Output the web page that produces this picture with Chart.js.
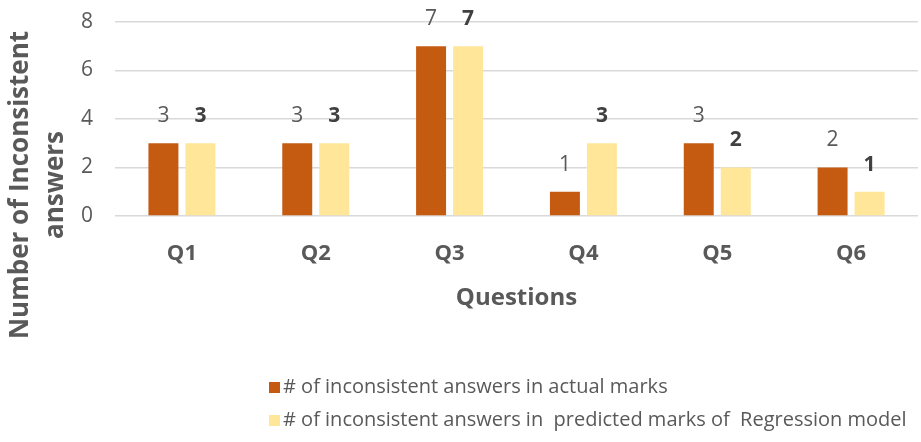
<!DOCTYPE html>
<html>
<head>
<meta charset="utf-8">
<script src="https://cdn.jsdelivr.net/npm/chart.js@4/dist/chart.umd.min.js"></script>
<style>
  html, body { margin: 0; padding: 0; background: #fff; }
  #wrap { width: 921px; height: 442px; }
</style>
</head>
<body>
<div id="wrap"><canvas id="myChart" width="921" height="442"></canvas></div>
<script>
const questions = ["Q1", "Q2", "Q3", "Q4", "Q5", "Q6"];
const actualMarks = [3, 3, 7, 1, 3, 2];
const predictedMarks = [3, 3, 7, 3, 2, 1];
const seriesNames = [
    "# of inconsistent answers in actual marks",
    "# of inconsistent answers in  predicted marks of  Regression model"
];
const yTicks = [0, 2, 4, 6, 8];
const yTitle = ["Number of Inconsistent", "answers"];
const xTitle = "Questions";

const FONT = "'Open Sans', sans-serif";
const GREY = '#595959';

// value labels above each bar; the second series is in bold
const barLabels = {
    id: 'barLabels',
    afterDatasetsDraw(chart) {
        const ctx = chart.ctx;
        ctx.save();
        ctx.textAlign = 'center';
        ctx.textBaseline = 'middle';
        chart.data.datasets.forEach((ds, i) => {
            const meta = chart.getDatasetMeta(i);
            ctx.font = (i === 1 ? 'bold ' : '') + '21px ' + FONT;
            ctx.fillStyle = i === 1 ? '#404040' : GREY;
            meta.data.forEach((bar, j) => {
                ctx.fillText(ds.data[j], bar.x, bar.y - 27);
            });
        });
        ctx.restore();
    }
};

// rotated axis title and the stacked legend underneath
const extras = {
    id: 'extras',
    afterDraw(chart) {
        const ctx = chart.ctx;
        ctx.save();
        ctx.fillStyle = GREY;
        ctx.font = 'bold 26px ' + FONT;
        ctx.textAlign = 'center';
        ctx.textBaseline = 'middle';
        yTitle.forEach((line, k) => {
            ctx.save();
            ctx.translate(21 + k * 35, 185);
            ctx.rotate(-Math.PI / 2);
            ctx.fillText(line, 0, 0);
            ctx.restore();
        });

        ctx.font = '20px ' + FONT;
        ctx.textAlign = 'left';
        chart.data.datasets.forEach((ds, i) => {
            const y = 387 + i * 33;
            ctx.fillStyle = ds.backgroundColor;
            ctx.fillRect(269, y - 5, 11, 11);
            ctx.fillStyle = GREY;
            ctx.fillText(ds.label, 283, y);
        });
        ctx.restore();
    }
};

const ctx = document.getElementById('myChart').getContext('2d');
const myChart = new Chart(ctx, {
    type: 'bar',
    data: {
        labels: questions,
        datasets: [
            {
                label: seriesNames[0],
                data: actualMarks,
                backgroundColor: '#C55A11',
                categoryPercentage: 0.553,
                barPercentage: 0.81
            },
            {
                label: seriesNames[1],
                data: predictedMarks,
                backgroundColor: '#FFE699',
                categoryPercentage: 0.553,
                barPercentage: 0.81
            }
        ]
    },
    options: {
        responsive: false,
        animation: false,
        layout: { padding: { top: 22, right: 3, bottom: 126, left: 0 } },
        plugins: {
            legend: { display: false },
            tooltip: { enabled: false }
        },
        scales: {
            x: {
                grid: { display: false, drawTicks: false },
                border: { display: false },
                ticks: {
                    color: GREY,
                    font: { family: FONT, size: 22, weight: 'bold' },
                    padding: 25
                },
                title: {
                    display: true,
                    text: xTitle,
                    color: GREY,
                    font: { family: FONT, size: 24, weight: 'bold' },
                    padding: { top: 0, bottom: 3 }
                },
                afterFit(scale) {
                    scale.height = 100;
                    scale.paddingLeft = 0;
                    scale.paddingRight = 0;
                }
            },
            y: {
                min: 0,
                max: 8,
                afterBuildTicks(scale) {
                    scale.ticks = yTicks.map(v => ({ value: v }));
                },
                grid: { color: '#D9D9D9', lineWidth: 1.5, drawTicks: false },
                border: { display: false },
                ticks: {
                    color: GREY,
                    font: { family: FONT, size: 21 },
                    padding: 22
                },
                afterFit(scale) {
                    scale.width = 115;
                    scale.paddingTop = 0;
                    scale.paddingBottom = 0;
                }
            }
        }
    },
    plugins: [barLabels, extras]
});
</script>
</body>
</html>
